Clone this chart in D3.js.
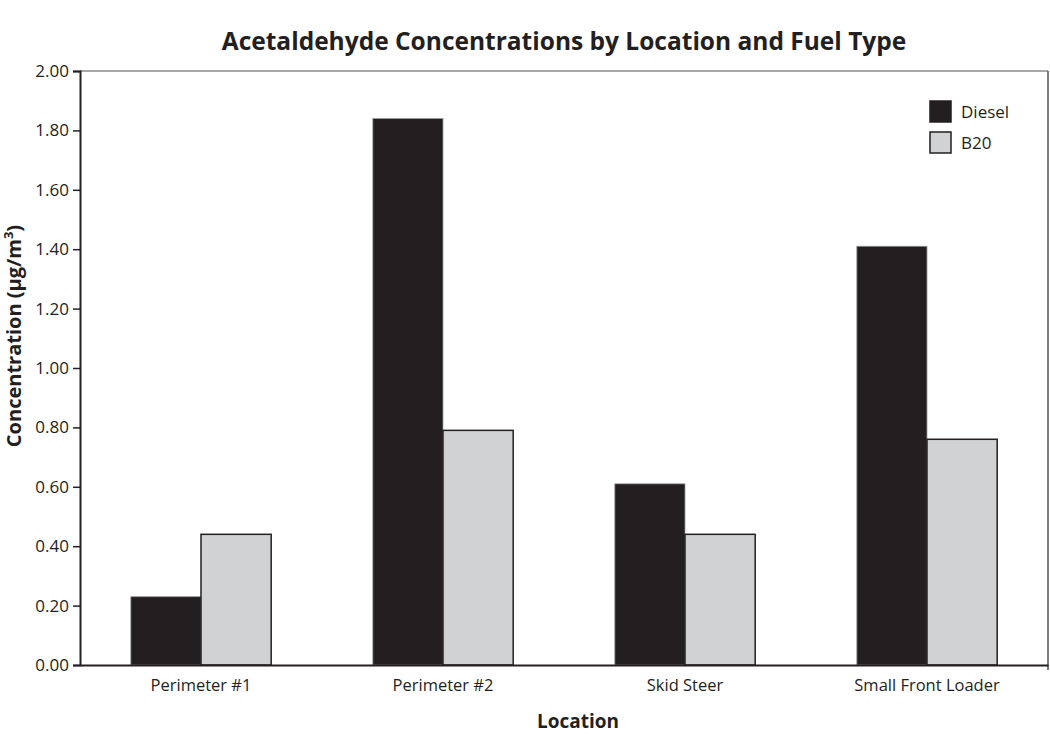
<!DOCTYPE html>
<html>
<head>
<meta charset="utf-8">
<script src="https://cdn.jsdelivr.net/npm/d3@7"></script>
<style>
  body { margin: 0; background: #fff; }
  svg { display: block; }
</style>
</head>
<body>
<svg id="chart" width="1050" height="734"></svg>
<script>
const categories = ["Perimeter #1", "Perimeter #2", "Skid Steer", "Small Front Loader"];
const seriesNames = ["Diesel", "B20"];
const dieselValues = [0.23, 1.84, 0.61, 1.41];
const b20Values = [0.44, 0.79, 0.44, 0.76];
const yTicks = [0, 0.2, 0.4, 0.6, 0.8, 1.0, 1.2, 1.4, 1.6, 1.8, 2.0];
const colors = ["#231f20", "#d1d2d4"];

const svg = d3.select("#chart");
const margin = { left: 80, right: 1048, top: 71, bottom: 665 };

const x0 = d3.scaleBand().domain(categories)
  .range([margin.left, margin.right])
  .paddingInner(0.42).paddingOuter(0.21);
const x1 = d3.scaleBand().domain(seriesNames).range([0, x0.bandwidth()]);
const y = d3.scaleLinear().domain([0, 2]).range([margin.bottom, margin.top]);

const fontTick = "'Open Sans', 'Noto Sans', sans-serif";
const fontBold = "'Open Sans', 'Noto Sans', sans-serif";

// frame: top and right border (grey)
svg.append("line").attr("x1", margin.left).attr("x2", margin.right)
  .attr("y1", margin.top).attr("y2", margin.top)
  .attr("stroke", "#8a8a8a").attr("stroke-width", 1.5);
svg.append("line").attr("x1", margin.right).attr("x2", margin.right)
  .attr("y1", margin.top).attr("y2", margin.bottom + 5)
  .attr("stroke", "#555").attr("stroke-width", 1.5);

// bars
const data = categories.map((c, i) => ({ cat: c, vals: [dieselValues[i], b20Values[i]] }));
const groups = svg.append("g").selectAll("g").data(data).join("g")
  .attr("transform", d => `translate(${x0(d.cat)},0)`);
groups.selectAll("rect")
  .data(d => d.vals.map((v, j) => ({ name: seriesNames[j], v, j })))
  .join("rect")
  .attr("x", d => x1(d.name))
  .attr("y", d => y(d.v))
  .attr("width", x1.bandwidth())
  .attr("height", d => y(0) - y(d.v))
  .attr("fill", d => colors[d.j])
  .attr("stroke", d => d.j === 0 ? "#9a9a9a" : "#231f20")
  .attr("stroke-width", d => d.j === 0 ? 0.8 : 1.5);

// y axis
const yAxis = d3.axisLeft(y).tickValues(yTicks).tickFormat(d3.format(".2f"))
  .tickSize(7).tickPadding(4);
const gy = svg.append("g").attr("transform", `translate(${margin.left},0)`).call(yAxis);
gy.select(".domain").attr("stroke", "#231f20").attr("stroke-width", 2);
gy.selectAll(".tick line").attr("stroke", "#231f20").attr("stroke-width", 1.5);
gy.selectAll(".tick text").attr("font-family", fontTick).attr("font-size", 17)
  .attr("fill", "#231f20");

// x axis
const xAxis = d3.axisBottom(x0).tickSize(0).tickPadding(14);
const gx = svg.append("g").attr("transform", `translate(0,${margin.bottom})`).call(xAxis);
gx.select(".domain").attr("stroke", "#231f20").attr("stroke-width", 2);
gx.selectAll(".tick text").attr("font-family", fontTick).attr("font-size", 16.5)
  .attr("fill", "#231f20");

// title
svg.append("text").attr("x", 564).attr("y", 50).attr("text-anchor", "middle")
  .attr("font-family", fontBold).attr("font-weight", "bold").attr("font-size", 24.5)
  .attr("fill", "#231f20")
  .text("Acetaldehyde Concentrations by Location and Fuel Type");

// x label
svg.append("text").attr("x", 578).attr("y", 728).attr("text-anchor", "middle")
  .attr("font-family", fontBold).attr("font-weight", "bold").attr("font-size", 19)
  .attr("fill", "#231f20").text("Location");

// y label
const yl = svg.append("text").attr("transform", `translate(21,336) rotate(-90)`)
  .attr("text-anchor", "middle")
  .attr("font-family", fontBold).attr("font-weight", "bold").attr("font-size", 20)
  .attr("fill", "#231f20");
yl.append("tspan").text("Concentration (µg/m");
yl.append("tspan").attr("dy", -8).attr("font-size", 13).text("3");
yl.append("tspan").attr("dy", 8).text(")");

// legend
const legend = svg.append("g").attr("transform", "translate(930,101)");
seriesNames.forEach((n, i) => {
  const g = legend.append("g").attr("transform", `translate(0,${i * 31})`);
  g.append("rect").attr("width", 21).attr("height", 21)
    .attr("fill", colors[i]).attr("stroke", "#231f20").attr("stroke-width", 1.5);
  g.append("text").attr("x", 31).attr("y", 11).attr("dy", "0.35em")
    .attr("font-family", fontTick).attr("font-size", 17).attr("fill", "#231f20").text(n);
});
</script>
</body>
</html>
